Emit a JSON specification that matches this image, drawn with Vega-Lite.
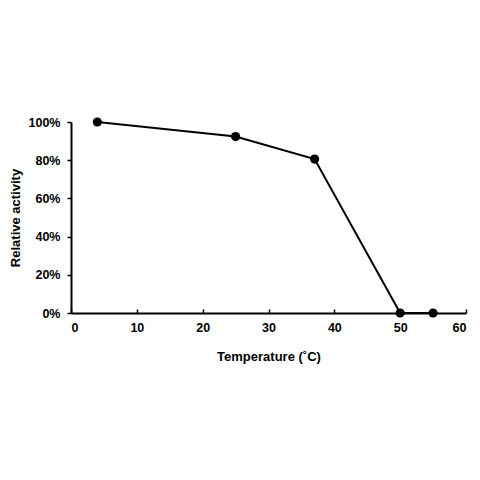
{
  "$schema": "https://vega.github.io/schema/vega-lite/v6.json",
  "width": 395,
  "height": 191,
  "autosize": "none",
  "padding": {"left": 71, "top": 122, "right": 14, "bottom": 167},
  "background": "white",
  "data": {
    "values": [
      {"temp": 4, "activity": 1.0},
      {"temp": 25, "activity": 0.924},
      {"temp": 37, "activity": 0.806},
      {"temp": 50, "activity": 0.0},
      {"temp": 55, "activity": 0.0}
    ]
  },
  "encoding": {
    "x": {
      "field": "temp",
      "type": "quantitative",
      "scale": {"domain": [0, 60], "nice": false},
      "axis": {
        "title": "Temperature (˚C)",
        "values": [0, 10, 20, 30, 40, 50, 60],
        "tickSize": -4,
        "labelPadding": 12,
        "titlePadding": 17
      }
    },
    "y": {
      "field": "activity",
      "type": "quantitative",
      "scale": {"domain": [0, 1], "nice": false},
      "axis": {
        "title": "Relative activity",
        "values": [0, 0.2, 0.4, 0.6, 0.8, 1],
        "format": ".0%",
        "tickSize": 4,
        "labelPadding": 7,
        "titlePadding": 6
      }
    }
  },
  "layer": [
    {"mark": {"type": "line", "color": "black", "strokeWidth": 2}},
    {"mark": {"type": "point", "filled": true, "color": "black", "opacity": 1, "size": 85}}
  ],
  "config": {
    "view": {"stroke": null},
    "axis": {
      "grid": false,
      "domainColor": "black",
      "domainWidth": 2,
      "tickColor": "black",
      "tickWidth": 1.5,
      "labelFont": "Liberation Sans",
      "labelFontWeight": "bold",
      "labelFontSize": 12.5,
      "labelColor": "black",
      "titleFont": "Liberation Sans",
      "titleFontWeight": "bold",
      "titleFontSize": 13,
      "titleColor": "black"
    }
  }
}
